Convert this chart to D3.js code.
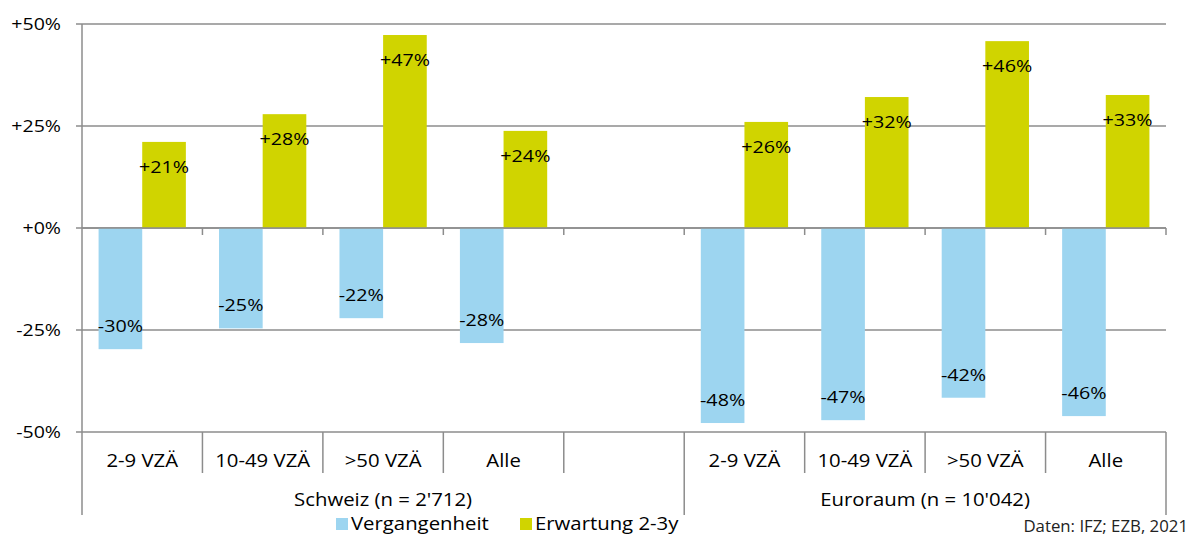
<!DOCTYPE html>
<html><head><meta charset="utf-8">
<script src="https://cdn.jsdelivr.net/npm/d3@7"></script>
<style>body{margin:0;background:#fff}svg text{font-family:"Open Sans",sans-serif;fill:#000}</style>
</head><body><svg id="c" width="1190" height="536"></svg>
<script>
const categories = ["2-9 VZÄ","10-49 VZÄ",">50 VZÄ","Alle","","2-9 VZÄ","10-49 VZÄ",">50 VZÄ","Alle"];
const groups = ["Schweiz (n = 2'712)","Euroraum (n = 10'042)"];
const groupSlots = [[0,4],[5,8]];
const vergangenheit = [-29.7,-24.6,-22.1,-28.2,null,-47.8,-47.1,-41.6,-46.1];
const erwartung = [21.1,27.9,47.3,23.8,null,26.0,32.1,45.8,32.6];
const seriesNames = ["Vergangenheit","Erwartung 2-3y"];
const colors = ["#9dd5f0","#d0d400"];
const yTicks = [50,25,0,-25,-50];
const source = "Daten: IFZ; EZB, 2021";

const svg = d3.select("#c");
const L=82,R=1166,T=24,B=432;
const y = d3.scaleLinear().domain([-50,50]).range([B,T]);
const idx = categories.map((d,i)=>i);
const x = d3.scaleBand().domain(idx).range([L,R]).padding(0);
const xs = d3.scaleBand().domain([0,1]).range([0,x.bandwidth()]).paddingInner(0).paddingOuter(0.38);
const grid="#8c8c8c";
const fmt = v => (v>0?"+":v<0?"-":"+")+Math.abs(Math.round(v))+"%";

function txt(g, data, fx, fy, ft, size, sx, anchor){
  return g.selectAll(null).data(data).join("text")
    .attr("transform",(d,i)=>`translate(${fx(d,i)},${fy(d,i)}) scale(${sx},1)`)
    .attr("dy","0.35em").attr("text-anchor",anchor||"middle")
    .style("font-size",size+"px").text(ft);
}

// gridlines
svg.append("g").selectAll("line").data(yTicks).join("line")
  .attr("x1",L-6).attr("x2",R).attr("y1",d=>y(d)).attr("y2",d=>y(d))
  .attr("stroke",grid).attr("stroke-width",1.5);
// y labels
txt(svg.append("g"), yTicks, ()=>61, d=>y(d), d=>fmt(d), 17, 1.15, "end");

// bars
const series=[vergangenheit,erwartung];
series.forEach((vals,s)=>{
  const data = vals.map((v,i)=>({v,i})).filter(d=>d.v!==null);
  svg.append("g").selectAll("rect").data(data).join("rect")
    .attr("x",d=>x(d.i)+xs(s)).attr("width",xs.bandwidth())
    .attr("y",d=>y(Math.max(0,d.v))).attr("height",d=>Math.abs(y(d.v)-y(0)))
    .attr("fill",colors[s]);
});
// zero line
svg.append("line").attr("x1",L).attr("x2",R).attr("y1",y(0)).attr("y2",y(0)).attr("stroke",grid).attr("stroke-width",1.5);
svg.append("g").selectAll("line").data(d3.range(1,categories.length+1)).join("line")
  .attr("x1",d=>L+d*x.step()).attr("x2",d=>L+d*x.step()).attr("y1",y(0)).attr("y2",y(0)+7)
  .attr("stroke",grid).attr("stroke-width",1.5);
// data labels
series.forEach((vals,s)=>{
  const data = vals.map((v,i)=>({v,i})).filter(d=>d.v!==null);
  txt(svg.append("g"), data, d=>x(d.i)+xs(s)+xs.bandwidth()/2, d=>y(d.v)+(d.v>0?25:-23), d=>fmt(d.v), 17, 1.16);
});
// left axis
svg.append("line").attr("x1",L).attr("x2",L).attr("y1",T).attr("y2",515).attr("stroke",grid).attr("stroke-width",1.5);
// category separators
svg.append("g").selectAll("line").data(d3.range(1,categories.length+1)).join("line")
  .attr("x1",d=>L+d*x.step()).attr("x2",d=>L+d*x.step())
  .attr("y1",B).attr("y2",d=>(d===5||d===9)?515:473)
  .attr("stroke",grid).attr("stroke-width",1.5);
// category labels
txt(svg.append("g"), idx, d=>x(d)+x.bandwidth()/2, ()=>461, d=>categories[d], 18, 1.13);
// group labels
txt(svg.append("g"), groups, (d,i)=>(x(groupSlots[i][0])+x(groupSlots[i][1])+x.bandwidth())/2, ()=>500, d=>d, 18, 1.13);
// legend
const lg = svg.append("g");
const lx=[336,520];
seriesNames.forEach((n,s)=>{
  lg.append("rect").attr("x",lx[s]).attr("y",518).attr("width",12).attr("height",12).attr("fill",colors[s]);
});
txt(lg, seriesNames, (d,i)=>lx[i]+15, ()=>524, d=>d, 18, 1.13, "start");
txt(svg.append("g"), [source], ()=>1188, ()=>526, d=>d, 16, 1.05, "end").style("fill","#222");
</script></body></html>
